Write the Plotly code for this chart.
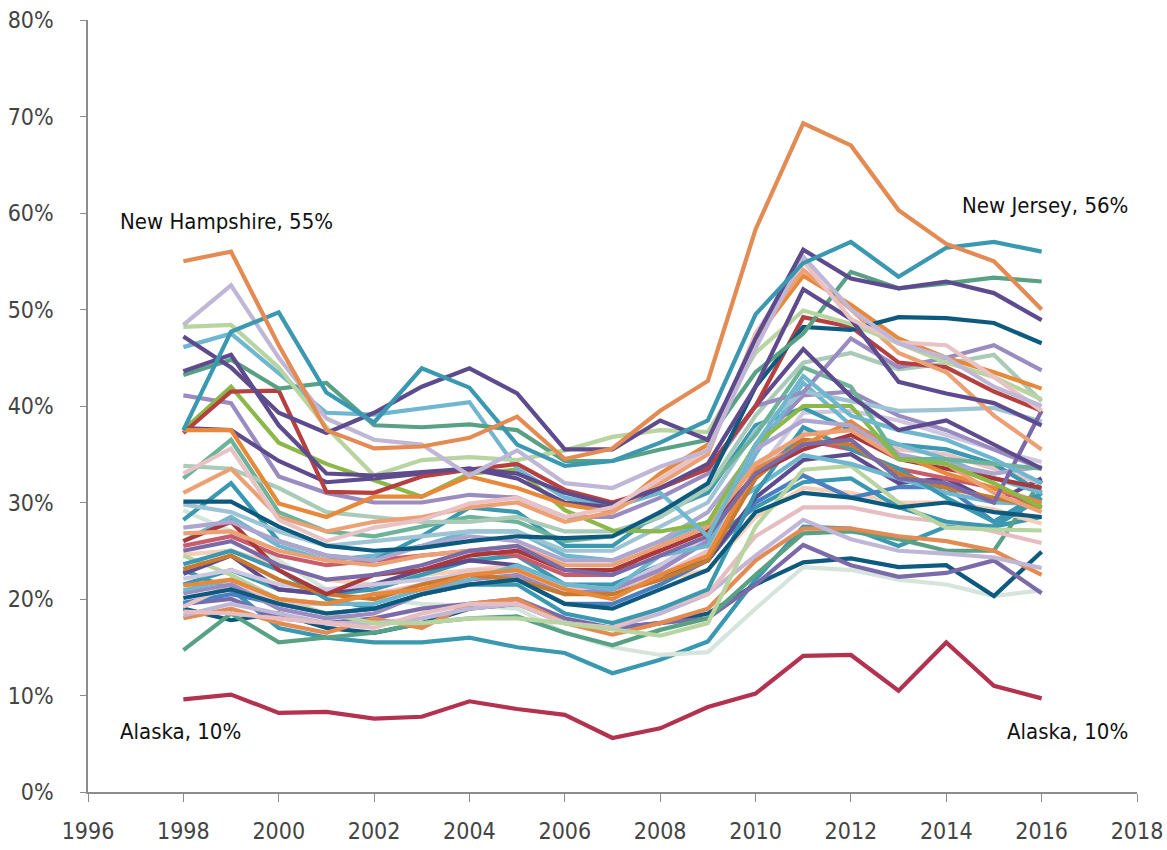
import plotly.graph_objects as go

years = list(range(1998, 2017))

# --- series (percent), 1998..2016 ---
new_hampshire = [55.0, 56.0, 46.3, 37.5, 35.6, 35.8, 36.7, 38.9, 34.5, 35.6, 39.5, 42.6, 58.3, 69.3, 67.0, 60.3, 56.8, 55.0, 50.0]
new_jersey = [37.5, 47.7, 49.7, 41.4, 38.3, 43.9, 41.9, 36.0, 33.8, 34.3, 36.2, 38.5, 49.5, 54.8, 57.0, 53.4, 56.4, 57.0, 56.0]
alaska = [9.6, 10.1, 8.2, 8.3, 7.6, 7.8, 9.4, 8.6, 8.0, 5.6, 6.6, 8.8, 10.2, 14.1, 14.2, 10.5, 15.5, 11.0, 9.7]

purple_a = [47.2, 44.0, 39.3, 37.2, 39.3, 42.0, 43.9, 41.3, 35.5, 35.5, 38.5, 36.5, 47.0, 56.2, 53.2, 52.2, 52.9, 51.7, 48.9]
purple_b = [43.6, 45.3, 38.0, 33.0, 32.8, 33.2, 33.5, 33.0, 31.0, 29.8, 31.5, 34.0, 42.0, 52.1, 49.0, 42.5, 41.3, 40.3, 38.0]
purple_c = [37.7, 37.5, 34.3, 32.1, 32.5, 33.0, 33.5, 32.5, 30.0, 29.5, 31.5, 33.5, 40.0, 45.9, 41.0, 37.5, 38.5, 36.0, 33.5]
green_a = [43.2, 44.8, 41.8, 42.4, 38.0, 37.8, 38.1, 37.5, 34.3, 34.3, 35.5, 36.5, 43.5, 47.5, 53.9, 52.2, 52.7, 53.3, 52.9]
navy_a = [30.1, 30.1, 27.5, 25.5, 25.0, 25.3, 26.0, 26.5, 26.3, 26.5, 29.0, 32.0, 42.0, 48.2, 47.9, 49.2, 49.1, 48.6, 46.5]
lavender_a = [48.4, 52.5, 45.0, 38.7, 36.5, 36.0, 32.8, 35.4, 32.0, 31.5, 33.7, 35.4, 46.0, 55.5, 50.0, 46.5, 45.0, 42.0, 40.0]
lightgreen_a = [48.2, 48.4, 44.0, 37.8, 32.8, 34.4, 34.7, 34.4, 35.4, 36.8, 37.5, 37.3, 45.5, 49.9, 48.5, 46.5, 44.5, 43.0, 40.7]
lightblue_a = [46.1, 47.5, 43.4, 39.3, 39.1, 39.8, 40.4, 33.5, 30.5, 29.5, 31.0, 26.5, 36.0, 43.1, 39.0, 37.5, 36.5, 34.5, 32.0]
lime = [37.5, 42.0, 36.2, 34.0, 32.3, 30.6, 33.0, 33.4, 29.2, 27.1, 27.0, 27.9, 36.0, 40.0, 40.0, 34.5, 34.0, 32.0, 29.5]
red_a = [37.2, 41.5, 41.6, 31.1, 31.0, 32.7, 33.4, 34.0, 31.3, 30.0, 31.5, 33.5, 40.0, 49.2, 48.2, 44.5, 44.0, 41.5, 39.5]
orange_a = [37.5, 37.5, 29.9, 28.5, 30.6, 30.6, 32.7, 31.5, 29.8, 29.0, 33.0, 36.0, 47.0, 53.5, 50.5, 47.0, 45.0, 43.5, 41.8]
purple_mid = [41.1, 40.3, 32.7, 31.0, 30.0, 30.0, 30.8, 30.5, 28.5, 28.5, 30.5, 33.0, 40.0, 41.4, 47.0, 44.0, 45.0, 46.3, 43.7]
mint_a = [33.8, 33.5, 31.5, 29.0, 28.5, 28.0, 28.0, 28.5, 27.0, 27.0, 28.5, 31.5, 39.0, 44.5, 45.5, 43.8, 44.4, 45.3, 40.5]
pink_a = [33.0, 35.6, 28.2, 26.0, 27.4, 28.2, 29.9, 30.5, 28.5, 29.5, 32.5, 35.5, 47.5, 55.0, 49.0, 46.6, 46.3, 43.0, 39.5]
ltorange_a = [31.0, 33.5, 28.5, 27.0, 28.0, 28.5, 29.5, 30.0, 28.0, 29.0, 32.0, 35.0, 47.5, 54.1, 50.0, 45.5, 43.5, 39.0, 35.5]
tealgreen = [32.5, 36.5, 29.0, 27.0, 26.5, 27.5, 28.5, 28.0, 26.0, 26.5, 28.5, 31.5, 37.0, 44.0, 42.0, 34.5, 34.5, 34.0, 33.5]

lightblue_b = [20.9, 22.0, 20.0, 19.5, 19.5, 21.0, 22.0, 23.5, 21.5, 21.0, 24.5, 25.5, 35.0, 42.4, 38.0, 36.0, 34.5, 32.5, 31.0]
purple_mid_b = [20.6, 21.5, 19.0, 18.0, 18.5, 20.5, 22.0, 22.5, 20.5, 21.0, 23.0, 26.0, 36.0, 41.1, 41.5, 39.0, 37.5, 35.5, 33.5]
teal_b = [28.2, 32.0, 26.0, 24.5, 24.0, 26.5, 29.5, 29.0, 25.5, 25.5, 29.0, 31.0, 38.0, 39.8, 37.5, 36.0, 35.5, 34.0, 31.0]
lavender_b = [22.1, 23.0, 21.5, 21.0, 21.5, 22.0, 22.5, 23.0, 21.5, 21.0, 23.5, 26.5, 33.0, 39.3, 39.5, 38.5, 37.0, 35.5, 34.2]
teal_c = [23.6, 25.0, 23.0, 20.0, 19.0, 20.5, 21.5, 21.5, 18.5, 17.5, 19.0, 21.0, 31.0, 37.8, 35.5, 33.5, 30.5, 28.0, 31.0]
pink_b = [19.2, 21.5, 19.5, 19.5, 20.5, 21.5, 23.0, 23.0, 21.0, 21.0, 22.5, 25.0, 33.5, 37.2, 37.5, 35.5, 35.0, 33.5, 32.0]
rosy = [25.5, 26.5, 24.5, 23.5, 24.0, 24.5, 25.0, 24.5, 22.5, 22.5, 25.5, 27.5, 34.0, 36.5, 35.5, 33.5, 32.5, 31.5, 29.5]
lightblue_c = [26.0, 28.5, 25.5, 24.0, 24.5, 25.5, 27.0, 27.0, 24.5, 24.0, 26.0, 28.0, 31.5, 34.9, 34.0, 32.5, 31.0, 30.0, 29.8]
purple_d = [22.6, 24.5, 21.0, 20.5, 21.5, 23.0, 24.0, 23.5, 21.5, 21.0, 22.5, 24.0, 30.5, 34.4, 35.0, 32.0, 32.5, 30.0, 32.5]
lightgreen_b = [24.5, 22.5, 20.0, 18.5, 17.5, 17.5, 18.0, 18.0, 17.5, 16.8, 16.2, 17.5, 27.5, 33.4, 33.8, 30.0, 27.4, 27.2, 27.1]
blue = [19.6, 20.5, 19.5, 18.5, 19.0, 20.5, 21.5, 22.0, 19.5, 19.5, 21.5, 24.0, 30.0, 32.8, 30.5, 31.6, 31.6, 28.0, 31.0]
teal_d = [21.5, 23.0, 21.0, 20.5, 21.0, 22.5, 24.0, 24.5, 21.5, 21.5, 23.5, 26.0, 29.5, 32.1, 32.5, 29.5, 28.0, 27.5, 30.5]
peach = [24.6, 25.0, 23.5, 22.0, 21.5, 22.5, 23.0, 23.5, 21.0, 20.5, 22.0, 23.0, 28.5, 31.5, 31.0, 30.0, 30.0, 29.3, 27.8]
pink_c = [18.7, 18.5, 18.0, 17.5, 17.0, 18.5, 19.5, 19.5, 17.5, 17.0, 19.0, 20.5, 26.5, 29.5, 29.5, 28.5, 28.0, 27.0, 25.8]
lavender_c = [18.3, 19.5, 18.5, 17.5, 17.5, 18.0, 19.0, 19.5, 17.5, 17.0, 18.5, 20.5, 24.5, 28.2, 26.2, 25.0, 24.7, 24.3, 23.2]
orange_b = [18.0, 19.0, 17.5, 16.5, 18.0, 17.0, 19.5, 20.0, 17.5, 16.3, 17.5, 19.0, 24.0, 27.3, 27.3, 26.5, 26.0, 25.0, 22.5]
green_b = [14.7, 18.5, 15.5, 16.0, 16.5, 17.5, 18.0, 18.2, 16.5, 15.2, 16.8, 18.0, 22.5, 26.8, 27.0, 26.2, 25.0, 25.0, 32.3]
purple_e = [19.5, 20.0, 18.0, 17.5, 18.0, 19.0, 19.5, 20.0, 18.0, 17.0, 17.5, 18.0, 21.5, 25.6, 23.5, 22.3, 22.7, 24.0, 20.6]
navy_b = [19.0, 17.8, 18.5, 17.0, 16.5, 17.5, 19.0, 19.5, 17.5, 17.0, 17.5, 18.5, 21.5, 23.8, 24.2, 23.3, 23.5, 20.3, 24.9]
pale_mint = [29.2, 27.0, 24.0, 21.0, 20.0, 19.5, 19.3, 19.0, 16.5, 15.0, 14.2, 14.5, 19.0, 23.3, 23.0, 22.0, 21.5, 20.3, 20.9]
teal_e = [23.0, 21.0, 17.0, 16.0, 15.5, 15.5, 16.0, 15.0, 14.4, 12.3, 13.7, 15.6, 22.0, 27.5, 27.3, 25.5, 27.5, 27.5, 28.5]
brown = [23.1, 24.5, 22.0, 20.5, 20.0, 21.5, 22.5, 22.0, 20.5, 20.5, 22.0, 24.0, 32.5, 36.5, 36.0, 33.0, 31.5, 30.5, 29.5]
red_b = [26.0, 28.0, 23.0, 20.5, 22.5, 23.0, 24.5, 25.0, 23.0, 23.0, 25.0, 27.0, 33.0, 35.5, 37.0, 34.5, 33.5, 32.5, 31.5]
bluegray = [29.8, 29.0, 27.0, 25.5, 26.0, 26.5, 27.0, 27.0, 25.0, 25.0, 27.5, 30.0, 37.5, 41.5, 40.5, 39.5, 39.6, 39.8, 38.4]
orange_c = [21.4, 22.0, 20.0, 19.5, 20.5, 21.0, 22.5, 23.0, 21.0, 20.0, 22.5, 24.5, 33.5, 36.0, 38.4, 35.0, 33.0, 31.5, 30.0]
lavender_d = [27.4, 28.0, 26.0, 24.5, 24.0, 25.5, 26.5, 26.0, 24.0, 24.0, 26.0, 29.0, 35.5, 38.5, 38.0, 35.0, 34.0, 33.0, 33.7]
ltorange_b = [26.8, 27.0, 25.0, 24.0, 23.5, 24.5, 25.0, 25.5, 23.5, 23.5, 25.5, 27.5, 34.0, 37.0, 37.5, 34.5, 34.0, 31.0, 29.0]
navy_c = [20.1, 21.0, 19.5, 18.5, 19.0, 20.5, 21.5, 22.0, 19.5, 19.0, 21.0, 23.0, 29.0, 31.0, 30.5, 29.5, 30.0, 29.0, 28.5]
purple_f = [25.0, 26.0, 23.5, 22.0, 22.5, 23.5, 25.0, 25.5, 23.0, 22.5, 24.5, 26.5, 33.0, 36.0, 36.5, 32.5, 32.0, 30.0, 39.5]

series = [
    (teal_e, "#3A98B0"), (pale_mint, "#D5E5DC"), (navy_b, "#0E5A7E"), (purple_e, "#7B6AA8"),
    (green_b, "#58A184"), (orange_b, "#E38B52"), (lavender_c, "#C0B6D6"), (pink_c, "#E6BDC0"),
    (peach, "#F5CFB5"), (teal_d, "#3A98B0"), (blue, "#4A7FC1"), (lightgreen_b, "#B8D4A0"),
    (purple_d, "#5E4B8E"), (lightblue_c, "#6FB6CF"), (rosy, "#C95C6B"), (pink_b, "#E8C2C4"),
    (teal_c, "#3A98B0"), (lavender_b, "#CFC7E0"), (teal_b, "#3A98B0"), (purple_mid_b, "#9A8CC0"),
    (lightblue_b, "#6FB6CF"), (brown, "#C97A2F"), (red_b, "#A8383B"), (bluegray, "#9EC3D3"),
    (orange_c, "#E8883A"), (lavender_d, "#AFA6CF"), (ltorange_b, "#EBA173"), (navy_c, "#0E5A7E"),
    (purple_f, "#7B6AA8"), (tealgreen, "#6DB39A"), (mint_a, "#A9CBB8"), (purple_mid, "#9A8CC0"),
    (lime, "#8CB849"), (lightblue_a, "#6FB6CF"), (purple_c, "#5E4B8E"), (red_a, "#B6403F"),
    (orange_a, "#E8883A"), (ltorange_a, "#EBA173"), (navy_a, "#0E5A7E"), (green_a, "#58A184"),
    (lightgreen_a, "#B8D4A0"), (purple_b, "#5E4B8E"), (pink_a, "#E8C2C4"), (lavender_a, "#C0B6D6"),
    (purple_a, "#5E4B8E"), (new_jersey, "#3A98B0"), (new_hampshire, "#E38B52"), (alaska, "#B2324F"),
]

FONT = "DejaVu Sans Condensed, DejaVu Sans, sans-serif"

fig = go.Figure()
for vals, col in series:
    fig.add_trace(go.Scatter(x=years, y=vals, mode="lines",
                             line=dict(color=col, width=4.2), showlegend=False))

labels = [
    dict(x=1996.63, y=59.1, text="New Hampshire, 55%", xanchor="left"),
    dict(x=2017.85, y=60.8, text="New Jersey, 56%", xanchor="right"),
    dict(x=1996.63, y=6.3, text="Alaska, 10%", xanchor="left"),
    dict(x=2017.85, y=6.3, text="Alaska, 10%", xanchor="right"),
]
for a in labels:
    fig.add_annotation(x=a["x"], y=a["y"], text=a["text"], xanchor=a["xanchor"],
                       yanchor="middle", showarrow=False,
                       font=dict(family=FONT, size=22, color="#111"))

fig.update_layout(
    width=1167, height=850,
    margin=dict(l=88, r=30, t=20, b=58, autoexpand=False),
    plot_bgcolor="white", paper_bgcolor="white",
    font=dict(family=FONT, size=23, color="#444"),
    xaxis=dict(range=[1996, 2018], tickmode="linear", tick0=1996, dtick=2,
               showgrid=False, zeroline=False, showline=True, linecolor="#8c8c8c",
               linewidth=1.5, ticks="outside", ticklen=8, tickcolor="#8c8c8c",
               ticklabelstandoff=10, automargin=False, ticklabeloverflow="allow"),
    yaxis=dict(range=[0, 80], dtick=10, ticksuffix="%", showgrid=False, zeroline=False,
               showline=True, linecolor="#8c8c8c", linewidth=1.5, ticks="outside",
               ticklen=6, tickcolor="#8c8c8c", ticklabelstandoff=22, automargin=False,
               ticklabeloverflow="allow"),
)

# drop the browser's default 8px body margin so the figure fills the window
fig.write_html("out.html", config={"displayModeBar": False},
               post_script="document.body.style.margin='0';")
